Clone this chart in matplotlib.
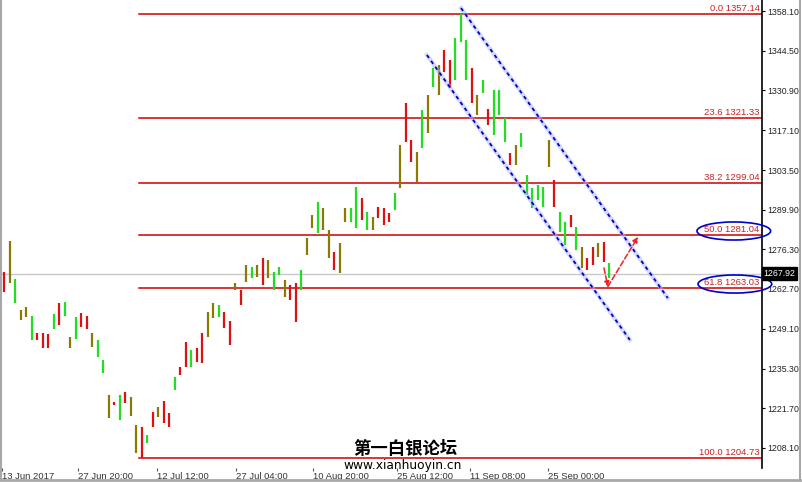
import matplotlib.pyplot as plt
import matplotlib.patches as mpatches
from matplotlib.lines import Line2D
from matplotlib.transforms import blended_transform_factory

plt.rcParams["font.family"] = ["Liberation Sans", "DejaVu Sans"]

# bars (H4): high, low, colour (g=up, r=down, o=doji-ish)
highs = [1268.50, 1279.15, 1266.10, 1255.46, 1256.49, 1253.40, 1247.56, 1247.56, 1247.22, 1254.09,
         1257.86, 1258.21, 1246.19, 1253.06, 1254.43, 1253.40, 1247.56, 1245.16, 1238.29, 1226.28,
         1223.87, 1226.28, 1227.31, 1225.59, 1215.98, 1215.29, 1212.54, 1220.44, 1222.15, 1224.21,
         1220.10, 1232.46, 1235.89, 1244.47, 1241.73, 1242.41, 1247.56, 1254.77, 1257.86, 1257.17,
         1254.77, 1251.68, 1264.72, 1262.32, 1270.91, 1270.22, 1270.91, 1273.31, 1272.62, 1268.50,
         1270.22, 1265.76, 1264.04, 1264.72, 1269.19, 1280.17, 1288.07, 1292.53, 1290.47, 1282.92,
         1275.37, 1278.46, 1290.47, 1290.47, 1297.68, 1293.91, 1289.10, 1287.38, 1290.82, 1290.47,
         1288.76, 1295.62, 1312.10, 1326.52, 1313.82, 1309.70, 1324.12, 1329.27, 1338.54, 1339.57,
         1344.72, 1341.28, 1348.83, 1357.14, 1348.15, 1338.54, 1329.27, 1334.42, 1324.46, 1330.98,
         1330.98, 1321.37, 1309.35, 1312.10, 1316.22, 1301.80, 1297.34, 1298.37, 1297.68, 1313.82,
         1300.09, 1289.10, 1285.67, 1288.07, 1283.95, 1277.09, 1273.31, 1277.09, 1278.46, 1278.80,
         1271.59]
lows = [1261.64, 1264.72, 1257.86, 1252.02, 1253.06, 1245.16, 1245.16, 1242.41, 1242.41, 1248.93,
        1250.31, 1253.40, 1242.41, 1245.50, 1249.62, 1248.93, 1242.76, 1239.32, 1233.83, 1218.38,
        1222.84, 1217.69, 1223.53, 1219.07, 1206.36, 1204.73, 1209.79, 1215.29, 1218.72, 1216.66,
        1215.29, 1228.00, 1233.14, 1235.89, 1235.89, 1237.61, 1237.26, 1246.19, 1252.72, 1253.06,
        1249.28, 1243.44, 1262.32, 1257.17, 1265.07, 1266.44, 1266.79, 1264.04, 1266.44, 1262.32,
        1267.47, 1259.92, 1258.89, 1251.34, 1262.32, 1274.35, 1283.61, 1281.89, 1282.92, 1273.31,
        1269.19, 1268.16, 1285.67, 1285.67, 1283.61, 1286.35, 1282.92, 1282.92, 1287.04, 1284.64,
        1285.67, 1289.79, 1297.34, 1313.13, 1306.27, 1299.40, 1311.07, 1316.22, 1332.01, 1329.27,
        1337.16, 1331.67, 1334.42, 1347.46, 1334.42, 1326.52, 1322.40, 1329.95, 1318.97, 1315.53,
        1322.40, 1313.13, 1305.23, 1305.23, 1311.41, 1294.94, 1290.47, 1293.22, 1290.82, 1304.55,
        1290.82, 1282.23, 1277.77, 1283.95, 1276.06, 1269.88, 1269.19, 1270.91, 1273.65, 1271.94,
        1266.44]
kinds = list("rogoogrrrgrgogrrogg" "orgroorgrorrgrrgrroo"
             "grrorogoroggorrgoogo" "orooggrgorrrgorrogog"
             "orrgggrogrgggrogggggo" "rggrgorrorg")

fib_pct = ["0.0", "23.6", "38.2", "50.0", "61.8", "100.0"]
fib_val = [1357.14, 1321.33, 1299.04, 1281.04, 1263.03, 1204.73]
last_price = 1267.92

price_ticks = [1358.10, 1344.50, 1330.90, 1317.10, 1303.50, 1289.90,
               1276.30, 1262.70, 1249.10, 1235.30, 1221.70, 1208.10]
date_labels = ["13 Jun 2017", "27 Jun 20:00", "12 Jul 12:00", "27 Jul 04:00",
               "10 Aug 20:00", "25 Aug 12:00", "11 Sep 08:00", "25 Sep 00:00"]
date_bars = [-0.45, 13.4, 27.7, 42.1, 56.1, 71.4, 84.6, 98.8]

colmap = {"g": "#22dd22", "r": "#dd1111", "o": "#8a7a00"}

fig = plt.figure(figsize=(8.03, 4.82), dpi=100)
ax = fig.add_axes([2 / 803, 14 / 482, 760 / 803, 468 / 482])
ax.set_xlim(-0.4545, 137.73)
ax.set_ylim(1201.22, 1361.88)

# fibo levels
low_bar = lows.index(min(lows))
for p, v in zip(fib_pct, fib_val):
    ax.plot([low_bar - 0.5, 137.73], [v, v], color="#cc0000", lw=1.1, zorder=2)
    ax.text(137.3, v + 0.4, f"{p} {v:.2f}", color="#cc2222", fontsize=6.8,
            ha="right", va="bottom", zorder=4)

# current price line
ax.axhline(last_price, color="#c8c8c8", lw=1, zorder=1)

# bars
for i, (h, l, k) in enumerate(zip(highs, lows, kinds)):
    ax.plot([i, i], [l, h], color=colmap[k], lw=1.6, solid_capstyle="butt", zorder=3)

# channel
for x0, y0, x1, y1 in [(83.0, 1359.13, 120.6, 1259.58), (76.8, 1343.0, 113.7, 1245.2)]:
    ax.plot([x0, x1], [y0, y1], color="#aab4ff", lw=3, alpha=0.5, zorder=4)
    ax.plot([x0, x1], [y0, y1], color="#0000c0", lw=1.3, ls=(0, (2, 2)), zorder=5)

# expected move arrows
ax.annotate("", xy=(109.7, 1263.5), xytext=(109.0, 1269.9),
            arrowprops=dict(arrowstyle="-|>", color="#ee2222", lw=1.1, ls="--",
                            mutation_scale=7, shrinkA=0, shrinkB=0), zorder=6)
ax.annotate("", xy=(115.2, 1280.6), xytext=(109.7, 1263.5),
            arrowprops=dict(arrowstyle="-|>", color="#ee2222", lw=1.1, ls="--",
                            mutation_scale=8, shrinkA=0, shrinkB=0), zorder=6)

# ellipses on 50 / 61.8
for cx, cy in [(132.6, 1282.58), (132.8, 1264.38)]:
    ax.add_patch(mpatches.Ellipse((cx, cy), 13.4, 6.2, fill=False, edgecolor="#0000cc",
                                  lw=1.2, clip_on=False, zorder=7))

# axes styling
for s in ["top", "left", "bottom"]:
    ax.spines[s].set_visible(False)
ax.spines["right"].set_color("black")
ax.spines["right"].set_linewidth(1.2)
ax.yaxis.tick_right()
ax.set_yticks(price_ticks)
ax.set_yticklabels([f"{t:.2f}" for t in price_ticks])
ax.tick_params(axis="y", direction="out", length=2, width=0.8, pad=1.5,
               labelsize=6.3, labelcolor="#222222")
ax.set_xticks(date_bars)
ax.set_xticklabels(date_labels, ha="left")
ax.tick_params(axis="x", direction="out", length=2, width=0.8, pad=1,
               labelsize=6.8, labelcolor="#333333", color="#555555")

tr = blended_transform_factory(ax.transAxes, ax.transData)
ax.text(1.002, last_price, f"{last_price:.2f}", transform=tr, color="white", fontsize=6.3,
        ha="left", va="center", zorder=8,
        bbox=dict(boxstyle="square,pad=0.2", fc="black", ec="black"))

# watermark
fig.text(406 / 803, 1 - 449 / 482, "第一白银论坛", fontsize=12.5, ha="center", va="center",
         family=["Noto Sans CJK SC", "DejaVu Sans"], weight="bold", color="black")
fig.text(403 / 803, 1 - 465 / 482, "www.xianhuoyin.cn", fontsize=8.8, ha="center",
         va="center", family=["DejaVu Sans"], color="black")

# window frame
fc = "#a8a8a8"
fig.add_artist(Line2D([1 / 803, 1 / 803], [2 / 482, 1], color=fc, lw=1.5))
fig.add_artist(Line2D([0, 800 / 803], [2 / 482, 2 / 482], color=fc, lw=2))
fig.add_artist(Line2D([800 / 803, 800 / 803], [2 / 482, 1], color=fc, lw=1.5))

fig.savefig("out.png", dpi=100)
